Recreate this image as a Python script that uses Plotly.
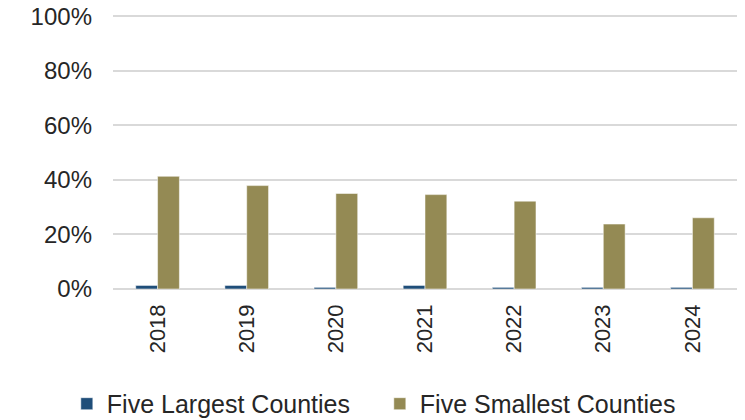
import plotly.graph_objects as go

years = ["2018", "2019", "2020", "2021", "2022", "2023", "2024"]
largest = [1.3, 1.3, 0.6, 1.3, 0.6, 0.6, 0.6]
smallest = [41.3, 37.9, 35.0, 34.6, 32.2, 23.8, 26.1]
y_ticks = [0, 20, 40, 60, 80, 100]
y_labels = ["0%", "20%", "40%", "60%", "80%", "100%"]

font = "Arial, Liberation Sans, sans-serif"

fig = go.Figure()
fig.add_bar(name="Five Largest Counties", x=years, y=largest,
            marker=dict(color="#1F4E79", line=dict(color="rgba(255,255,255,0.5)", width=1)))
fig.add_bar(name="Five Smallest Counties", x=years, y=smallest,
            marker=dict(color="#948A54", line=dict(color="rgba(255,255,255,0.5)", width=1)))

fig.update_layout(
    width=745, height=420,
    margin=dict(l=113, r=8, t=14, b=131, autoexpand=False),
    paper_bgcolor="white", plot_bgcolor="white",
    barmode="group", bargap=0.51, bargroupgap=0,
    font=dict(family=font, size=24, color="#262626"),
    showlegend=True,
    legend=dict(orientation="h", x=-0.074, xanchor="left", y=-0.418, yanchor="middle",
                font=dict(size=25), entrywidth=268, itemclick=False),
)
fig.update_xaxes(tickangle=-90, tickfont=dict(size=22), ticklabelstandoff=10,
                 showline=False, showgrid=False, automargin=False)
fig.update_yaxes(range=[0, 100.8], tickvals=y_ticks, ticktext=y_labels,
                 showgrid=True, gridcolor="#d9d9d9", gridwidth=2,
                 zeroline=True, zerolinecolor="#d9d9d9", zerolinewidth=2,
                 ticklabelstandoff=20, ticklabeloverflow="allow",
                 showline=False, automargin=False)

# drop the default 8px body margin so the figure sits at the page corner
fig.write_html("out.html", config={"displayModeBar": False},
               post_script="document.body.style.margin = '0';")
